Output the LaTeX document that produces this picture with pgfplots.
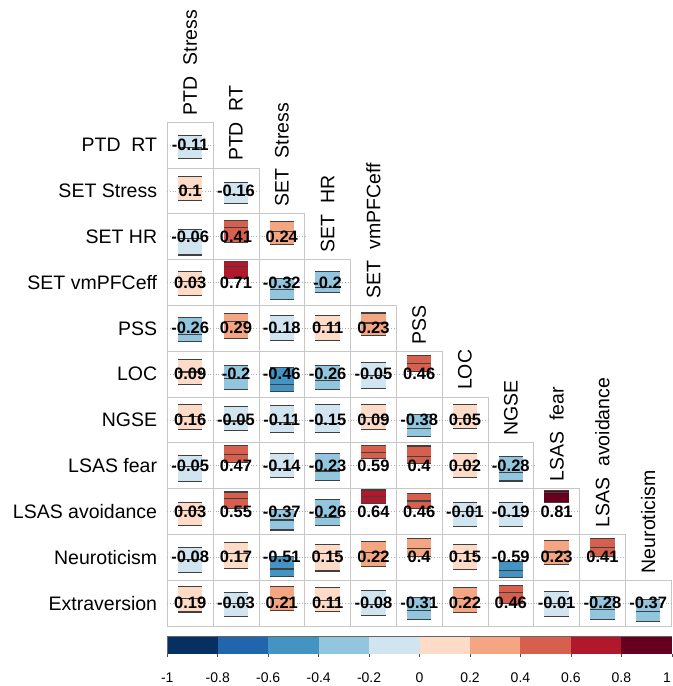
\documentclass[border=0pt]{standalone}
\usepackage{fontspec}
\setmainfont{Liberation Sans}
\usepackage{pgfplots}
\usepackage{pgfplotstable}
\pgfplotsset{compat=1.18}
\definecolor{c0}{HTML}{053061}
\definecolor{c1}{HTML}{2166AC}
\definecolor{c2}{HTML}{4393C3}
\definecolor{c3}{HTML}{92C5DE}
\definecolor{c4}{HTML}{D1E5F0}
\definecolor{c5}{HTML}{FDDBC7}
\definecolor{c6}{HTML}{F4A582}
\definecolor{c7}{HTML}{D6604D}
\definecolor{c8}{HTML}{B2182B}
\definecolor{c9}{HTML}{67001F}
\pgfplotstableread{
x y r c lo hi
0.5 10.5 -0.11 4 -0.57 0.42
0.5 9.5 0.1 5 -0.42 0.61
1.5 9.5 -0.16 4 -0.57 0.35
0.5 8.5 -0.06 4 -0.80 0.33
1.5 8.5 0.41 7 -0.27 0.71
2.5 8.5 0.24 6 -0.34 0.65
0.5 7.5 0.03 5 -0.55 0.47
1.5 7.5 0.71 8 0.18 0.91
2.5 7.5 -0.32 3 -0.76 0.18
3.5 7.5 -0.2 3 -0.45 0.48
0.5 6.5 -0.26 3 -0.58 0.48
1.5 6.5 0.29 6 -0.44 0.63
2.5 6.5 -0.18 4 -0.54 0.55
3.5 6.5 0.11 5 -0.54 0.55
4.5 6.5 0.23 6 -0.32 0.67
0.5 5.5 0.09 5 -0.47 0.63
1.5 5.5 -0.2 3 -0.67 0.38
2.5 5.5 -0.46 2 -0.75 0.30
3.5 5.5 -0.26 3 -0.67 0.38
4.5 5.5 -0.05 4 -0.61 0.49
5.5 5.5 0.46 7 0.12 0.80
0.5 4.5 0.16 5 -0.42 0.66
1.5 4.5 -0.05 4 -0.47 0.60
2.5 4.5 -0.11 4 -0.54 0.63
3.5 4.5 -0.15 4 -0.54 0.66
4.5 4.5 0.09 5 -0.42 0.66
5.5 4.5 -0.38 3 -0.71 0.23
6.5 4.5 0.05 5 -0.39 0.67
0.5 3.5 -0.05 4 -0.70 0.44
1.5 3.5 0.47 7 0.12 0.87
2.5 3.5 -0.14 4 -0.51 0.55
3.5 3.5 -0.23 3 -0.66 0.55
4.5 3.5 0.59 7 0.30 0.90
5.5 3.5 0.4 7 0.10 0.86
6.5 3.5 0.02 5 -0.52 0.54
7.5 3.5 -0.28 3 -0.67 0.42
0.5 2.5 0.03 5 -0.63 0.41
1.5 2.5 0.55 7 0.12 0.85
2.5 2.5 -0.37 3 -0.81 0.07
3.5 2.5 -0.26 3 -0.63 0.53
4.5 2.5 0.64 8 0.36 0.94
5.5 2.5 0.46 7 0.12 0.79
6.5 2.5 -0.01 4 -0.66 0.41
7.5 2.5 -0.19 4 -0.66 0.41
8.5 2.5 0.81 9 0.39 0.92
0.5 1.5 -0.08 4 -0.65 0.41
1.5 1.5 0.17 5 -0.50 0.63
2.5 1.5 -0.51 2 -0.85 0.02
3.5 1.5 0.15 5 -0.60 0.56
4.5 1.5 0.22 6 -0.41 0.70
5.5 1.5 0.4 6 0.05 0.81
6.5 1.5 0.15 5 -0.53 0.56
7.5 1.5 -0.59 2 -0.90 -0.17
8.5 1.5 0.23 6 -0.31 0.73
9.5 1.5 0.41 7 0.05 0.81
0.5 0.5 0.19 5 -0.39 0.71
1.5 0.5 -0.03 4 -0.57 0.48
2.5 0.5 0.21 6 -0.31 0.74
3.5 0.5 0.11 5 -0.35 0.67
4.5 0.5 -0.08 4 -0.54 0.55
5.5 0.5 -0.31 3 -0.71 0.23
6.5 0.5 0.22 6 -0.42 0.67
7.5 0.5 0.46 7 0.00 0.77
8.5 0.5 -0.01 4 -0.57 0.52
9.5 0.5 -0.28 3 -0.71 0.28
10.5 0.5 -0.37 3 -0.79 0.16
}\corrdata
\begin{document}
\begin{tikzpicture}
\path[use as bounding box] (0,0) rectangle (673bp,686bp);
\begin{axis}[
  at={(167.3bp,60bp)}, anchor=south west,
  scale only axis, width=503.8bp, height=503.8bp,
  xmin=0, xmax=11, ymin=0, ymax=11,
  clip=false,
  axis line style={draw=none},
  xtick=\empty,
  ytick={0.5,1.5,2.5,3.5,4.5,5.5,6.5,7.5,8.5,9.5,10.5},
  yticklabels={Extraversion,Neuroticism,LSAS avoidance,LSAS fear,NGSE,LOC,PSS,SET vmPFCeff,SET HR,SET Stress,PTD\hspace{0.55em}RT},
  major tick length=0pt,
  yticklabel style={font=\fontsize{19.5bp}{22bp}\selectfont, anchor=east, inner sep=0pt, xshift=-10bp},
]
\addplot[
  scatter, only marks, mark=*, mark size=0pt,
  mark options={draw=none, fill=none},
  point meta=\thisrow{r},
  visualization depends on={\thisrow{lo} \as \lo},
  visualization depends on={\thisrow{hi} \as \hi},
  visualization depends on={\thisrow{r} \as \rr},
  visualization depends on={\thisrow{c} \as \ci},
  scatter/@pre marker code/.code={%
    \pgfmathtruncatemacro\cidx{round(\ci)}%
    \path[draw=black!22, line width=0.8bp, fill=none] (-22.9bp,-22.9bp) rectangle (22.9bp,22.9bp);
    \path[draw=black!30, dotted, line width=0.7bp] (-22.9bp,0) -- (22.9bp,0);
    \path[fill=c\cidx, draw=none] (-12.2bp,\lo*22.9bp) rectangle (12.2bp,\hi*22.9bp);
    \path[draw=black!75, line width=1.1bp] (-12.2bp,\lo*22.9bp) -- (12.2bp,\lo*22.9bp);
    \path[draw=black!75, line width=1.1bp] (-12.2bp,\hi*22.9bp) -- (12.2bp,\hi*22.9bp);
    \path[draw=black!75, line width=1.1bp] (-12.2bp,\rr*22.9bp) -- (12.2bp,\rr*22.9bp);
  },
  scatter/@post marker code/.code={},
] table[x=x, y=y] {\corrdata};
\addplot[
  draw=none,
  point meta=explicit symbolic,
  nodes near coords,
  every node near coord/.append style={anchor=center, inner sep=0pt, font=\bfseries\fontsize{16.5bp}{18bp}\selectfont, text=black},
] table[x=x, y=y, meta=r] {\corrdata};
\begin{scope}[every node/.style={rotate=90, anchor=west, inner sep=0pt, font=\fontsize{19.5bp}{22bp}\selectfont}]
\node at (axis cs:0.5,11.15) {PTD\hspace{0.55em}Stress};
\node at (axis cs:1.5,10.15) {PTD\hspace{0.55em}RT};
\node at (axis cs:2.5,9.15) {SET\hspace{0.55em}Stress};
\node at (axis cs:3.5,8.15) {SET\hspace{0.55em}HR};
\node at (axis cs:4.5,7.15) {SET\hspace{0.55em}vmPFCeff};
\node at (axis cs:5.5,6.15) {PSS};
\node at (axis cs:6.5,5.15) {LOC};
\node at (axis cs:7.5,4.15) {NGSE};
\node at (axis cs:8.5,3.15) {LSAS\hspace{0.55em}fear};
\node at (axis cs:9.5,2.15) {LSAS\hspace{0.55em}avoidance};
\node at (axis cs:10.5,1.15) {Neuroticism};
\end{scope}
\end{axis}
\begin{axis}[
  at={(167.3bp,32bp)}, anchor=south west,
  scale only axis, width=504.5bp, height=18bp,
  xmin=-1, xmax=1, ymin=0, ymax=1,
  axis line style={draw=none},
  ytick=\empty,
  xtick={-1,-0.8,-0.6,-0.4,-0.2,0,0.2,0.4,0.6,0.8,1},
  xticklabels={-1,-0.8,-0.6,-0.4,-0.2,0,0.2,0.4,0.6,0.8,\makebox[0pt][r]{1\hspace{1bp}}},
  xtick pos=bottom, tick align=outside, major tick length=3bp,
  tick style={black!70, line width=0.6bp},
  xticklabel style={font=\fontsize{14bp}{16bp}\selectfont, inner sep=0pt, yshift=-16bp},
]
\addplot[fill=c0, draw=none] coordinates {(-1,0) (-0.8,0) (-0.8,1) (-1,1)} -- cycle;
\addplot[fill=c1, draw=none] coordinates {(-0.8,0) (-0.6,0) (-0.6,1) (-0.8,1)} -- cycle;
\addplot[fill=c2, draw=none] coordinates {(-0.6,0) (-0.4,0) (-0.4,1) (-0.6,1)} -- cycle;
\addplot[fill=c3, draw=none] coordinates {(-0.4,0) (-0.2,0) (-0.2,1) (-0.4,1)} -- cycle;
\addplot[fill=c4, draw=none] coordinates {(-0.2,0) (0,0) (0,1) (-0.2,1)} -- cycle;
\addplot[fill=c5, draw=none] coordinates {(0,0) (0.2,0) (0.2,1) (0,1)} -- cycle;
\addplot[fill=c6, draw=none] coordinates {(0.2,0) (0.4,0) (0.4,1) (0.2,1)} -- cycle;
\addplot[fill=c7, draw=none] coordinates {(0.4,0) (0.6,0) (0.6,1) (0.4,1)} -- cycle;
\addplot[fill=c8, draw=none] coordinates {(0.6,0) (0.8,0) (0.8,1) (0.6,1)} -- cycle;
\addplot[fill=c9, draw=none] coordinates {(0.8,0) (1,0) (1,1) (0.8,1)} -- cycle;
\addplot[draw=black!60, line width=0.5bp] coordinates {(-1,0) (1,0) (1,1) (-1,1)} -- cycle;
\end{axis}
\end{tikzpicture}
\end{document}
